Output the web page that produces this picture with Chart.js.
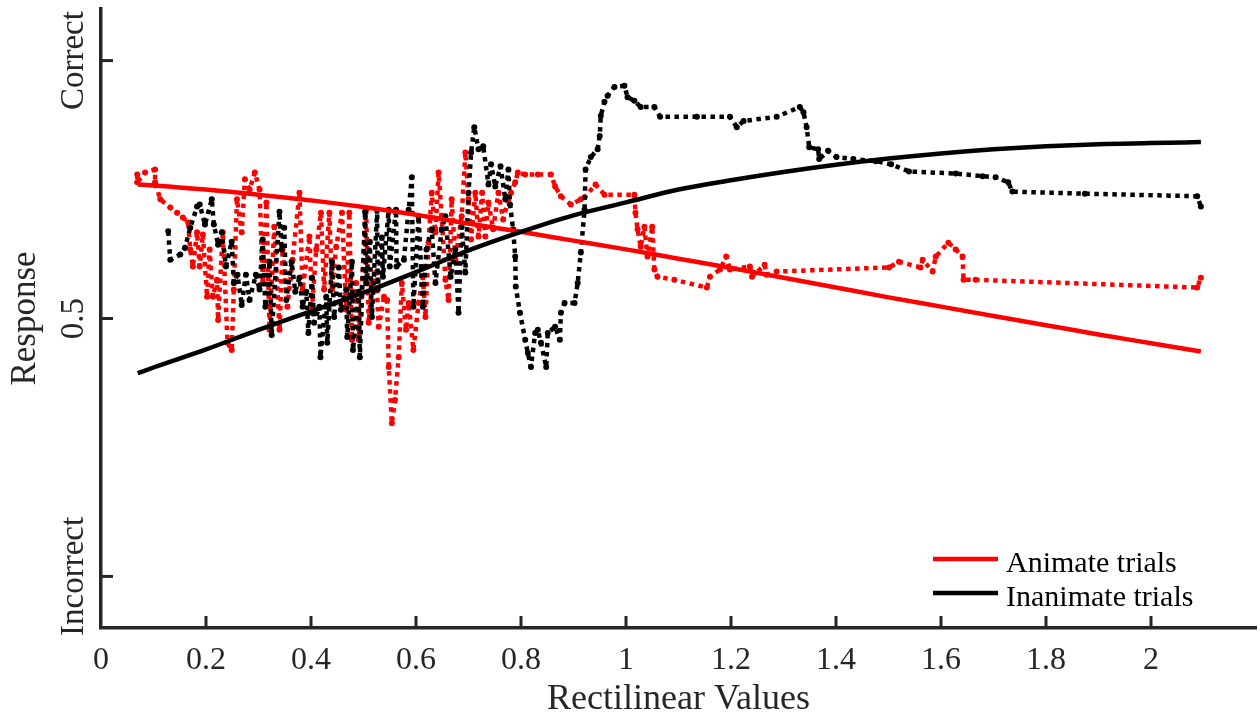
<!DOCTYPE html>
<html>
<head>
<meta charset="utf-8">
<script src="https://cdn.jsdelivr.net/npm/chart.js@4/dist/chart.umd.min.js"></script>
<style>
    html, body { margin: 0; padding: 0; background: #fff; }
</style>
</head>
<body>
<canvas id="responseChart" width="1260" height="719"></canvas>
<script>
// fitted curves
const fitX = [0.07, 0.1, 0.2, 0.3, 0.4, 0.5, 0.6, 0.7, 0.8, 0.9, 1.0, 1.1, 1.2, 1.3, 1.4, 1.5, 1.6, 1.7, 1.8, 1.9, 2.0, 2.095];
const animateFit = [0.760, 0.758, 0.750, 0.740, 0.729, 0.716, 0.701, 0.684, 0.668, 0.651, 0.634, 0.616, 0.598, 0.579, 0.560, 0.541, 0.523, 0.505, 0.487, 0.469, 0.452, 0.436];
const inanimateFit = [0.394, 0.405, 0.440, 0.478, 0.514, 0.550, 0.590, 0.632, 0.668, 0.700, 0.725, 0.750, 0.768, 0.784, 0.798, 0.810, 0.820, 0.828, 0.834, 0.838, 0.840, 0.842];

// raw trial responses (dotted)
const animateX = [0.069, 0.069, 0.084, 0.103, 0.103, 0.113, 0.132, 0.145, 0.156, 0.166,
    0.170, 0.175, 0.183, 0.188, 0.194, 0.202, 0.207, 0.213, 0.221, 0.223,
    0.232, 0.241, 0.249, 0.253, 0.259, 0.268, 0.274, 0.283, 0.293, 0.302,
    0.308, 0.315, 0.321, 0.330, 0.340, 0.346, 0.355, 0.365, 0.378, 0.384,
    0.397, 0.402, 0.410, 0.419, 0.425, 0.435, 0.440, 0.448, 0.459, 0.467,
    0.473, 0.478, 0.486, 0.491, 0.505, 0.510, 0.516, 0.524, 0.529, 0.539,
    0.545, 0.548, 0.554, 0.560, 0.567, 0.573, 0.581, 0.586, 0.595, 0.605,
    0.613, 0.618, 0.624, 0.630, 0.637, 0.643, 0.649, 0.656, 0.662, 0.668,
    0.675, 0.687, 0.694, 0.700, 0.705, 0.713, 0.719, 0.726, 0.732, 0.738,
    0.747, 0.757, 0.766, 0.776, 0.781, 0.789, 0.794, 0.808, 0.832, 0.857,
    0.865, 0.876, 0.895, 0.914, 0.921, 0.942, 0.959, 1.016, 1.018, 1.022,
    1.028, 1.035, 1.041, 1.050, 1.054, 1.060, 1.092, 1.154, 1.160, 1.179,
    1.191, 1.198, 1.236, 1.240, 1.264, 1.268, 1.287, 1.501, 1.520, 1.561,
    1.565, 1.584, 1.590, 1.614, 1.628, 1.641, 1.643, 1.666, 2.088, 2.095];
const animateY = [0.779, 0.764, 0.783, 0.789, 0.764, 0.731, 0.715, 0.705, 0.696, 0.686,
    0.634, 0.601, 0.667, 0.601, 0.663, 0.542, 0.634, 0.542, 0.575, 0.497,
    0.667, 0.453, 0.439, 0.556, 0.731, 0.667, 0.770, 0.750, 0.783, 0.750,
    0.569, 0.725, 0.478, 0.678, 0.478, 0.634, 0.523, 0.614, 0.744, 0.556,
    0.659, 0.523, 0.634, 0.705, 0.556, 0.705, 0.556, 0.639, 0.705, 0.517,
    0.705, 0.459, 0.569, 0.459, 0.711, 0.492, 0.569, 0.589, 0.484, 0.542,
    0.536, 0.406, 0.297, 0.342, 0.425, 0.569, 0.478, 0.530, 0.439, 0.530,
    0.581, 0.503, 0.647, 0.744, 0.667, 0.783, 0.698, 0.575, 0.536, 0.731,
    0.614, 0.698, 0.822, 0.731, 0.653, 0.744, 0.659, 0.744, 0.659, 0.725,
    0.673, 0.744, 0.692, 0.731, 0.744, 0.764, 0.783, 0.779, 0.779, 0.779,
    0.756, 0.737, 0.721, 0.731, 0.735, 0.760, 0.740, 0.740, 0.705, 0.673,
    0.639, 0.678, 0.620, 0.678, 0.595, 0.581, 0.575, 0.560, 0.581, 0.595,
    0.620, 0.595, 0.601, 0.581, 0.604, 0.585, 0.591, 0.599, 0.610, 0.599,
    0.614, 0.591, 0.620, 0.647, 0.634, 0.620, 0.575, 0.575, 0.560, 0.579];

const inanimateX = [0.128, 0.132, 0.151, 0.160, 0.170, 0.183, 0.188, 0.198, 0.211, 0.215,
    0.223, 0.230, 0.238, 0.249, 0.253, 0.260, 0.268, 0.276, 0.283, 0.295,
    0.302, 0.308, 0.313, 0.321, 0.325, 0.340, 0.344, 0.349, 0.353, 0.363,
    0.370, 0.378, 0.384, 0.391, 0.395, 0.402, 0.406, 0.416, 0.418, 0.429,
    0.431, 0.440, 0.444, 0.453, 0.457, 0.467, 0.469, 0.478, 0.480, 0.491,
    0.493, 0.503, 0.505, 0.512, 0.516, 0.526, 0.527, 0.535, 0.537, 0.548,
    0.550, 0.562, 0.563, 0.577, 0.586, 0.592, 0.595, 0.605, 0.613, 0.620,
    0.630, 0.637, 0.649, 0.656, 0.666, 0.675, 0.681, 0.687, 0.694, 0.700,
    0.705, 0.711, 0.719, 0.728, 0.738, 0.743, 0.751, 0.761, 0.770, 0.776,
    0.779, 0.785, 0.789, 0.790, 0.798, 0.808, 0.813, 0.819, 0.827, 0.832,
    0.838, 0.848, 0.851, 0.865, 0.874, 0.876, 0.883, 0.902, 0.908, 0.914,
    0.921, 0.923, 0.933, 0.946, 0.950, 0.952, 0.959, 0.965, 0.978, 0.997,
    1.003, 1.016, 1.028, 1.054, 1.065, 1.135, 1.198, 1.211, 1.224, 1.287,
    1.331, 1.338, 1.344, 1.349, 1.366, 1.368, 1.385, 1.401, 1.433, 1.476,
    1.505, 1.539, 1.628, 1.679, 1.704, 1.728, 1.736, 1.874, 2.088, 2.095];
const inanimateY = [0.669, 0.614, 0.624, 0.637, 0.676, 0.717, 0.721, 0.682, 0.731, 0.682,
    0.643, 0.667, 0.601, 0.649, 0.569, 0.585, 0.526, 0.585, 0.536, 0.585,
    0.556, 0.653, 0.523, 0.610, 0.468, 0.707, 0.634, 0.676, 0.536, 0.610,
    0.552, 0.579, 0.523, 0.552, 0.472, 0.579, 0.492, 0.523, 0.425, 0.542,
    0.453, 0.610, 0.503, 0.599, 0.517, 0.556, 0.464, 0.610, 0.439, 0.552,
    0.425, 0.707, 0.569, 0.649, 0.503, 0.711, 0.556, 0.657, 0.581, 0.711,
    0.601, 0.711, 0.601, 0.614, 0.711, 0.774, 0.523, 0.698, 0.523, 0.634,
    0.673, 0.569, 0.673, 0.698, 0.581, 0.634, 0.511, 0.678, 0.589, 0.744,
    0.822, 0.871, 0.828, 0.834, 0.760, 0.799, 0.756, 0.795, 0.731, 0.789,
    0.721, 0.673, 0.620, 0.562, 0.511, 0.459, 0.433, 0.406, 0.472, 0.478,
    0.453, 0.406, 0.472, 0.484, 0.459, 0.511, 0.530, 0.530, 0.569, 0.628,
    0.711, 0.789, 0.813, 0.828, 0.854, 0.893, 0.920, 0.932, 0.949, 0.951,
    0.929, 0.922, 0.910, 0.910, 0.891, 0.891, 0.891, 0.871, 0.883, 0.891,
    0.910, 0.900, 0.871, 0.832, 0.828, 0.809, 0.825, 0.813, 0.809, 0.805,
    0.799, 0.785, 0.781, 0.776, 0.774, 0.764, 0.746, 0.742, 0.737, 0.717];

const yTickValues = [0, 0.5, 1];
const yTickLabels = ['Incorrect', '0.5', 'Correct'];
const seriesNames = ['Animate trials', 'Inanimate trials'];
const seriesColors = ['#ff0000', '#000000'];

const axisColor = '#262626';
const serif = '"Liberation Serif", "Times New Roman", serif';

const toPoints = (xs, ys) => xs.map((x, i) => ({ x: x, y: ys[i] }));

const dotted = (color) => ({
    showLine: true,
    borderColor: color,
    borderWidth: 4.5,
    borderDash: [4.5, 4.5],
    borderJoinStyle: 'round',
    pointRadius: 3,
    pointBorderWidth: 0,
    pointBackgroundColor: color,
});

// inward ticks, rotated y labels, legend
const axisExtras = {
    id: 'axisExtras',
    afterDraw(chart) {
        const { ctx, chartArea, scales } = chart;
        const x = scales.x;
        const y = scales.y;
        ctx.save();
        ctx.strokeStyle = axisColor;
        ctx.lineWidth = 3;
        x.ticks.forEach((t) => {
            if (t.value <= 0 || t.value > 2.05) return;
            const px = x.getPixelForValue(t.value);
            ctx.beginPath();
            ctx.moveTo(px, chartArea.bottom);
            ctx.lineTo(px, chartArea.bottom - 12);
            ctx.stroke();
        });
        for (let i = 0; i < yTickValues.length; i++) {
            const py = y.getPixelForValue(yTickValues[i]);
            ctx.beginPath();
            ctx.moveTo(chartArea.left, py);
            ctx.lineTo(chartArea.left + 12, py);
            ctx.stroke();

            ctx.save();
            ctx.translate(chartArea.left - 18, py);
            ctx.rotate(-Math.PI / 2);
            ctx.font = '33px ' + serif;
            ctx.fillStyle = axisColor;
            ctx.textAlign = 'center';
            ctx.textBaseline = 'alphabetic';
            ctx.fillText(yTickLabels[i], 0, 0);
            ctx.restore();
        }

        // legend, bottom right inside the axes
        const lx = chartArea.right - 323;
        const rows = [chartArea.bottom - 69, chartArea.bottom - 35];
        ctx.font = '30px ' + serif;
        ctx.textAlign = 'left';
        ctx.textBaseline = 'alphabetic';
        ctx.lineWidth = 4.5;
        for (let i = 0; i < seriesNames.length; i++) {
            ctx.strokeStyle = seriesColors[i];
            ctx.beginPath();
            ctx.moveTo(lx, rows[i]);
            ctx.lineTo(lx + 65, rows[i]);
            ctx.stroke();
            ctx.fillStyle = '#000';
            ctx.fillText(seriesNames[i], lx + 73, rows[i] + 13);
        }
        ctx.restore();
    },
};

const ctx = document.getElementById('responseChart');
const myChart = new Chart(ctx, {
    type: 'scatter',
    data: {
        datasets: [
            {
                label: 'Inanimate fit',
                data: toPoints(fitX, inanimateFit),
                showLine: true,
                borderColor: seriesColors[1],
                borderWidth: 4.5,
                pointRadius: 0,
                cubicInterpolationMode: 'monotone',
                order: 0,
            },
            {
                label: 'Animate fit',
                data: toPoints(fitX, animateFit),
                showLine: true,
                borderColor: seriesColors[0],
                borderWidth: 4.5,
                pointRadius: 0,
                cubicInterpolationMode: 'monotone',
                order: 1,
            },
            Object.assign({ label: seriesNames[1], data: toPoints(inanimateX, inanimateY), order: 2 }, dotted(seriesColors[1])),
            Object.assign({ label: seriesNames[0], data: toPoints(animateX, animateY), order: 3 }, dotted(seriesColors[0])),
        ],
    },
    options: {
        responsive: false,
        animation: false,
        devicePixelRatio: 1,
        layout: { padding: { top: 9, right: 0, bottom: 0, left: 0 } },
        plugins: {
            legend: { display: false },
            tooltip: { enabled: false },
        },
        scales: {
            x: {
                type: 'linear',
                position: 'bottom',
                min: 0,
                max: 2.2,
                grid: { display: false, drawTicks: false },
                border: { display: true, color: axisColor, width: 3.5 },
                ticks: {
                    stepSize: 0.2,
                    includeBounds: false,
                    autoSkip: false,
                    maxRotation: 0,
                    padding: 13,
                    color: axisColor,
                    font: { family: serif, size: 32 },
                    callback: (v) => (v > 2.05 ? '' : String(Number(v.toFixed(1)))),
                },
                title: {
                    display: true,
                    text: 'Rectilinear Values',
                    color: axisColor,
                    font: { family: serif, size: 36, lineHeight: 1 },
                    padding: { top: 0, bottom: 1 },
                },
                afterFit: (scale) => {
                    scale.height = 91;
                    scale.paddingRight = 0;
                },
            },
            y: {
                type: 'linear',
                min: -0.1,
                max: 1.1,
                grid: { display: false, drawTicks: false },
                border: { display: true, color: axisColor, width: 3.5 },
                ticks: { display: false, includeBounds: false },
                title: {
                    display: true,
                    text: 'Response',
                    color: axisColor,
                    font: { family: serif, size: 35, lineHeight: 1 },
                    padding: { top: 8.5, bottom: 0 },
                },
                afterFit: (scale) => {
                    scale.width = 101;
                },
            },
        },
    },
    plugins: [axisExtras],
});
</script>
</body>
</html>
